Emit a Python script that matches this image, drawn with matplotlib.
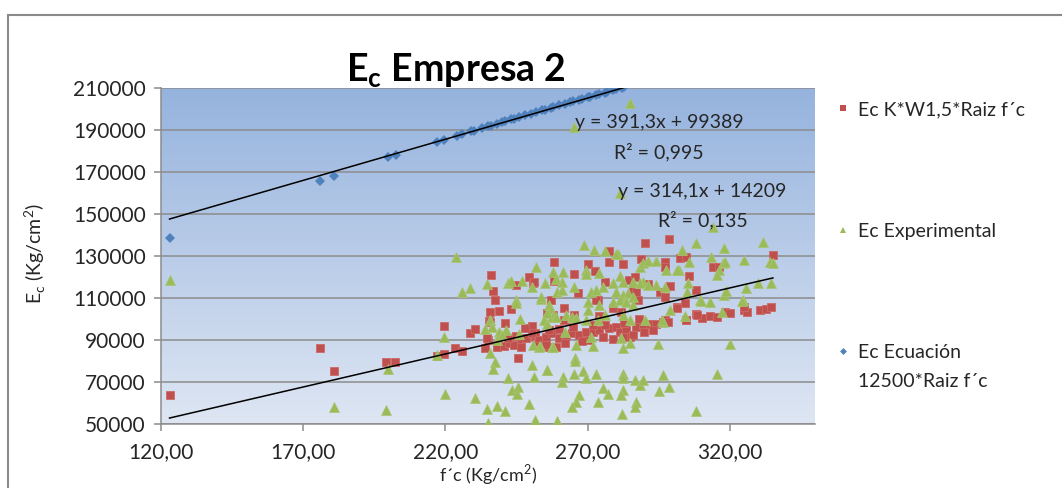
import numpy as np
import matplotlib.pyplot as plt
from matplotlib.lines import Line2D
from matplotlib.patches import Rectangle
from matplotlib.colors import LinearSegmentedColormap
from matplotlib.ticker import FuncFormatter

plt.rcParams['font.family'] = ['Lato', 'DejaVu Sans']

# -- datos (f'c en Kg/cm2, Ec en Kg/cm2)

# Ec Ecuacion 12500*Raiz f'c (solo los puntos visibles, el resto queda fuera del eje)
fc_ecuacion = [123, 176, 181, 200, 202.5, 217, 219.5, 224, 226, 229, 230, 233, 235, 236, 238,
               240, 241, 243, 244, 246, 248, 250, 252, 254, 255, 257, 258, 260, 262, 264, 265,
               267, 268, 270, 271, 273, 274, 276, 277, 279, 280, 282, 283]
ec_ecuacion = [138600, 165800, 168200, 176800, 177900, 184100, 185200, 187100, 187900, 189200,
               189600, 190800, 191600, 192000, 192800, 193600, 194100, 194900, 195300, 196100,
               196900, 197600, 198400, 199200, 199600, 200400, 200800, 201600, 202300, 203100,
               203500, 204300, 204600, 205400, 205800, 206500, 206900, 207700, 208000, 208800,
               209200, 209900, 210300]

# Ec K*W1,5*Raiz f'c
fc_kw = [123, 176, 181, 199.3, 202.2, 217, 219.6, 219.6, 223.5, 225.8, 228.8, 230.3, 234, 235,
         236.1, 236.9, 237.5, 235.8, 235.4, 238.7, 238, 243.2, 241.1, 235.6, 234.6, 238.2, 240.6,
         242.3, 244.1, 246.5, 246.5, 248.3, 245.6, 244.7, 249.4, 250.8, 250.3, 251.7, 252.7,
         251.7, 258.3, 258.3, 265.3, 266.5, 270.2, 272.7, 277.7, 277.5, 282.4, 276.3, 273.6,
         265.3, 290.3, 298.7, 288.7, 297.2, 297.2, 302.5, 304.8, 305.6, 314.3, 316.1, 335.2,
         284.6, 286.6, 286, 287.2, 287.8, 291.3, 295.5, 299, 308.2, 297.2, 301.6, 304.2, 297.2,
         304.6, 308.1, 310.1, 313.1, 315.4, 318.4, 320.1, 325, 326.1, 325, 330.8, 332.6, 334.6,
         251.2, 257, 273, 278.9, 261.8, 261.8, 255.9, 257.7, 274.2, 281.8, 250.6, 253, 253,
         255.3, 255.9, 257.6, 260, 262.4, 264.7, 267.1, 269.5, 271.8, 274.2, 275.4, 277.7,
         280.1, 281.3, 283.6, 284.8, 287.2, 289.5, 291.9, 294.2, 296.6, 298.4, 301.3, 260, 265,
         270, 276, 279, 286, 290, 293, 262, 268, 272, 245, 248, 242, 283, 288, 282.4, 255.3,
         258.8, 256.5, 304.8, 308.4]
ec_kw = [64000, 86000, 75000, 79300, 79300, 82300, 96600, 83300, 86000, 84800, 93100, 95000,
         86000, 90200, 120800, 113400, 108900, 103400, 99100, 103900, 87500, 104500, 98100,
         98600, 90700, 86700, 87000, 88300, 87500, 89100, 86700, 90700, 81200, 116100, 119800,
         117200, 96600, 91500, 89900, 93100, 126900, 118100, 121300, 112100, 126100, 122900,
         132400, 126900, 126100, 117700, 108900, 101800, 135900, 138000, 128400, 126900, 124500,
         128800, 129600, 120500, 124500, 124500, 130400, 118500, 120000, 113700, 112900, 108900,
         116500, 112900, 115600, 113700, 110500, 105800, 107400, 99400, 99700, 102300, 100200,
         101300, 100700, 103400, 102600, 104200, 103400, 105800, 104200, 104500, 105800, 117600,
         108900, 108900, 105000, 105000, 99400, 102600, 101800, 101300, 103400, 93100, 89900,
         87000, 91500, 86700, 93100, 90700, 92300, 93100, 92300, 93900, 93900, 94700, 91500,
         95500, 96200, 93900, 94700, 91500, 96200, 97000, 97800, 97800, 98600, 98600, 105400,
         95000, 96000, 90000, 97000, 90500, 92500, 94000, 94500, 88500, 89500, 97000, 92000,
         95500, 91000, 98000, 100000, 91500, 87500, 86700, 94700, 99400, 101800]

# Ec Experimental
fc_exp = [123.2, 223.7, 225.8, 228.8, 219.7, 217.2, 219.9, 199.9, 180.8, 199.3, 230.3, 234.6,
          234, 235.8, 236.4, 235.8, 237.5, 236.9, 234.6, 238.2, 235, 238.7, 242, 243.3, 245.6,
          245.3, 241, 249.4, 251.5, 242, 243.2, 246.8, 250.6, 244.7, 244.7, 246.1, 241.4, 240,
          238.2, 245.9, 250.6, 251.2, 252, 253.5, 253.2, 268.9, 272.2, 276.3, 280.7, 257.9,
          261.4, 269.5, 269.5, 274.2, 281.3, 288.3, 289.5, 291.3, 294, 297.5, 255, 261.2, 265.3,
          275.4, 278.9, 282.4, 286, 289.5, 291.3, 294.2, 297.2, 253.5, 259.4, 261.2, 271.2, 273,
          280.1, 282.4, 284.2, 286, 270, 274.2, 278.9, 281.3, 283.6, 286, 256.5, 257, 262.4,
          264.7, 265.9, 270, 269.5, 273.6, 276, 282.4, 284.8, 290.1, 296.6, 298.9, 254.7, 255.9,
          257.6, 262.1, 253, 257.6, 265.9, 271.8, 271.2, 281.8, 282.4, 284.8, 294.8, 265.6,
          265.6, 255.6, 261.4, 261.2, 265.3, 268.3, 269.5, 273, 282.4, 282.4, 286.6, 288.3,
          289.5, 296.6, 298.7, 275.6, 277.1, 282.4, 281.8, 295.2, 267.1, 265.9, 264.5, 273.6,
          286.9, 286.6, 282.2, 259.1, 284.8, 265.3, 281.3, 314.3, 258.8, 258.8, 255.6, 250.8,
          258, 255.6, 308.1, 318.1, 331.7, 325, 334.1, 335.3, 313.3, 317.8, 318.4, 316.1, 315.5,
          305.8, 305.5, 302, 288.3, 305.1, 309.6, 313.1, 318.1, 318.8, 325.8, 330, 334.7, 324.6,
          317.3, 304.2, 296.3, 320, 315.4, 308.1, 303.1, 301.6, 310, 324.4, 280.1]
ec_exp = [118500, 129600, 112600, 114500, 91500, 82700, 64500, 76400, 58100, 56600, 62600,
          116600, 95000, 99700, 96200, 83900, 79600, 76400, 56900, 58500, 50500, 93900, 72100,
          66400, 67600, 64200, 56200, 59300, 51800, 117200, 118100, 118100, 115300, 108900,
          107400, 99900, 94700, 92300, 89900, 92800, 78000, 72400, 124800, 109700, 87000,
          135100, 132700, 132400, 130800, 122400, 122400, 123200, 121600, 121900, 120400,
          124800, 126400, 127700, 127700, 123200, 116900, 117600, 115300, 115300, 116900,
          117600, 117600, 117600, 116100, 116100, 115300, 110500, 112900, 113700, 112900,
          113700, 112900, 111300, 112100, 110500, 108100, 106600, 108100, 108900, 108100,
          106600, 106600, 104200, 101800, 101000, 100200, 104200, 99400, 99400, 101800, 101800,
          99400, 99400, 98600, 104200, 99400, 97800, 101000, 93900, 86700, 86700, 87500, 87000,
          91500, 90700, 86000, 88300, 88000, 81200, 80000, 75900, 72400, 70000, 73700, 75300,
          71700, 74000, 74000, 71700, 70900, 68500, 70900, 73200, 67600, 66900, 64200, 66400,
          63700, 65700, 63700, 60500, 58100, 60500, 60500, 58100, 54700, 51300, 202600, 191400,
          159700, 143800, 118800, 100700, 102600, 87500, 86700, 75600, 135900, 133500, 136400,
          128000, 127200, 126700, 129600, 126400, 127200, 123200, 120800, 127200, 116900,
          123200, 116900, 112900, 108900, 108100, 111300, 113200, 114500, 117200, 116900,
          108900, 103400, 101300, 99400, 88000, 73700, 56200, 132700, 123200, 108600, 108600,
          131100]

# lineas de tendencia (coeficientes mostrados en el grafico)
pend_ecuacion, inter_ecuacion = 391.3, 99389
pend_kw, inter_kw = 314.1, 14209

xticks = [120, 170, 220, 270, 320]
yticks = [50000, 70000, 90000, 110000, 130000, 150000, 170000, 190000, 210000]

rojo = '#C0504D'
verde = '#9BBB59'
azul = '#4F81BD'

W, H = 1062, 488
fig = plt.figure(figsize=(W / 100, H / 100), dpi=100)
ax = fig.add_axes([161 / W, 1 - 424 / H, (815 - 161) / W, (424 - 87.7) / H])

# fondo degradado del area de trazado
grad = np.linspace(1, 0, 256).reshape(-1, 1)
cmap = LinearSegmentedColormap.from_list('fondo', ['#DEE6F3', '#95B3DE'])
ax.imshow(grad, extent=[120, 350, 50000, 210000], aspect='auto', cmap=cmap, zorder=0)

ax.plot(fc_kw, ec_kw, 's', color=rojo, markersize=5.5, markeredgecolor='#CB6A67',
        markeredgewidth=0.6, zorder=3)
ax.plot(fc_exp, ec_exp, '^', color=verde, markersize=6.5, markeredgecolor='#A9C574',
        markeredgewidth=0.5, zorder=4)
ax.plot(fc_ecuacion, ec_ecuacion, 'D', color=azul, markersize=4.8, markeredgewidth=0, zorder=5)

xe = np.array([min(fc_ecuacion), 335.3])
ax.plot(xe, pend_ecuacion * xe + inter_ecuacion, color='black', lw=1.1, zorder=6)
xk = np.array([min(fc_kw), max(fc_kw)])
ax.plot(xk, pend_kw * xk + inter_kw, color='black', lw=1.1, zorder=6)

ax.set_xlim(120, 350)
ax.set_ylim(50000, 210000)
ax.set_xticks(xticks)
ax.set_yticks(yticks)
ax.xaxis.set_major_formatter(FuncFormatter(lambda v, p: f'{v:.2f}'.replace('.', ',')))
ax.set_axisbelow(True)
ax.yaxis.grid(True, color='#8C8C8C', lw=1.1)
for s in ['top', 'right']:
    ax.spines[s].set_visible(False)
for s in ['left', 'bottom']:
    ax.spines[s].set_color('#8C8C8C')
    ax.spines[s].set_linewidth(1.1)
ax.tick_params(direction='out', length=5, width=1.1, color='#8C8C8C',
               labelsize=15, labelcolor='#262626', pad=6)
ax.tick_params(axis='x', pad=8)

# ecuaciones de las tendencias
for xt, yt, txt in [(295.2, 190800, 'y = 391,3x + 99389'), (295.2, 176500, 'R² = 0,995'),
                    (310.5, 158000, 'y = 314,1x + 14209'), (310.5, 144200, 'R² = 0,135')]:
    ax.text(xt, yt, txt, ha='center', va='baseline', fontsize=14, color='#262626', zorder=7)

# titulo y ejes
fig.text(456 / W, 1 - 82 / H, r'E$_\mathregular{c}$ Empresa 2', ha='center', va='baseline',
         fontsize=27, fontweight='bold', color='black')
fig.text(35 / W, 1 - 254 / H, r'E$_\mathregular{c}$ (Kg/cm$^\mathregular{2}$)', rotation=90,
         ha='center', va='center', fontsize=14, color='#262626')
fig.text(488 / W, 1 / H, r"f´c (Kg/cm$^\mathregular{2}$)", ha='center', va='bottom',
         fontsize=13, color='#262626')

# leyenda
ley = [(rojo, 's', 4.5, ['Ec K*W1,5*Raiz f´c'], 115),
       (verde, '^', 5, ['Ec Experimental'], 237),
       (azul, 'D', 3.5, ['Ec Ecuación', '12500*Raiz f´c'], 358)]
for col, mk, ms, textos, yb in ley:
    fig.add_artist(Line2D([843 / W], [1 - (yb - 7) / H], marker=mk, color=col,
                          markersize=ms, markeredgewidth=0, transform=fig.transFigure))
    for i, t in enumerate(textos):
        fig.text(858 / W, 1 - (yb + 29 * i) / H, t, ha='left', va='baseline', fontsize=14,
                 color='#262626')

# borde del grafico
fig.add_artist(Rectangle((8 / W, -0.1), 1.2, 1 - 15 / H + 0.1, transform=fig.transFigure,
                         fill=False, edgecolor='#8A8A8A', lw=1.5))

fig.savefig('out.png', dpi=100)
